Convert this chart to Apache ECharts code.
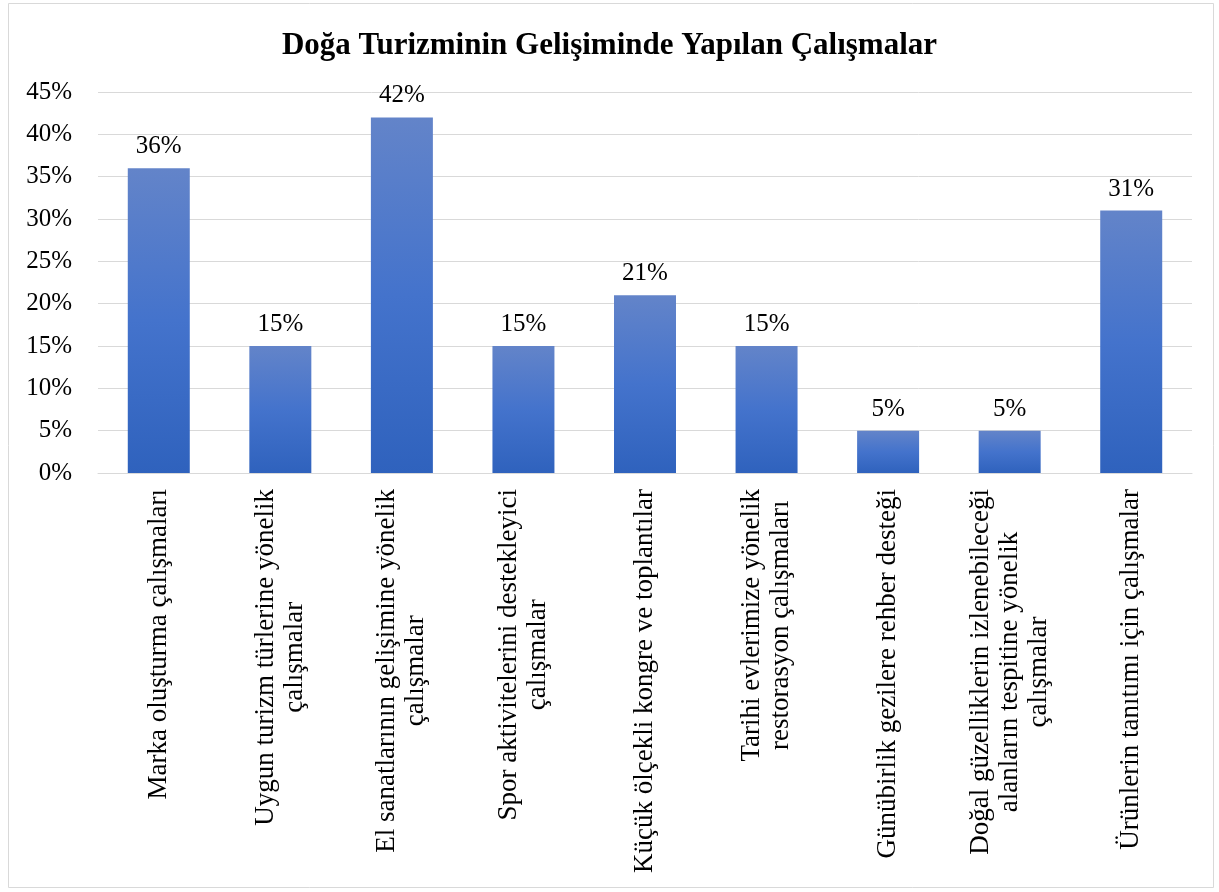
<!DOCTYPE html>
<html>
<head>
<meta charset="utf-8">
<script src="https://cdn.jsdelivr.net/npm/echarts@6/dist/echarts.min.js"></script>
<style>
html,body{margin:0;padding:0;background:#fff;}
#c{width:1219px;height:892px;}
</style>
</head>
<body>
<div id="c"></div>
<script>
var titleText = 'Doğa Turizminin Gelişiminde Yapılan Çalışmalar';
var categories = [
  'Marka oluşturma çalışmaları',
  'Uygun turizm türlerine yönelik\nçalışmalar',
  'El sanatlarının gelişimine yönelik\nçalışmalar',
  'Spor aktivitelerini destekleyici\nçalışmalar',
  'Küçük ölçekli kongre ve toplantılar',
  'Tarihi evlerimize yönelik\nrestorasyon çalışmaları',
  'Günübirlik gezilere rehber desteği',
  'Doğal güzelliklerin izlenebileceği\nalanların tespitine yönelik\nçalışmalar',
  'Ürünlerin tanıtımı için çalışmalar'
];
var values = [36, 15, 42, 15, 21, 15, 5, 5, 31];
var yMin = 0, yMax = 45, yStep = 5;

var FONT = '"Liberation Serif", "Times New Roman", serif';
var chart = echarts.init(document.getElementById('c'), null, {renderer: 'canvas'});
chart.setOption({
  backgroundColor: '#fff',
  animation: false,
  graphic: [{
    type: 'rect', silent: true, z: -1,
    shape: {x: 8.5, y: 3.5, width: 1205, height: 884},
    style: {fill: 'none', stroke: '#D9D9D9', lineWidth: 1}
  }],
  title: {
    text: titleText, left: 'center', top: 25,
    textStyle: {fontFamily: FONT, fontSize: 31, fontWeight: 'bold', color: '#000'}
  },
  grid: {left: 98, right: 27, top: 92, bottom: 419, containLabel: false},
  xAxis: {
    type: 'category', data: categories,
    axisLine: {show: true, lineStyle: {color: '#D9D9D9', width: 1}},
    axisTick: {show: false},
    axisLabel: {
      interval: 0, rotate: 90, margin: 16, align: 'right',
      fontFamily: FONT, fontSize: 27, color: '#000', lineHeight: 29,
      formatter: function (v) {
        return v.split('\n').map(function (s) { return '{c|' + s + '}'; }).join('\n');
      },
      rich: {c: {align: 'center', fontFamily: FONT, fontSize: 27, color: '#000', lineHeight: 29}}
    }
  },
  yAxis: {
    type: 'value', min: yMin, max: yMax, interval: yStep,
    axisLine: {show: false}, axisTick: {show: false},
    splitLine: {lineStyle: {color: '#D9D9D9', width: 1}},
    axisLabel: {
      margin: 26, fontFamily: FONT, fontSize: 25, color: '#000',
      formatter: function (v) { return v + '%'; }
    }
  },
  series: [{
    type: 'bar', data: values, barWidth: '51%',
    itemStyle: {
      color: new echarts.graphic.LinearGradient(0, 0, 0, 1, [
        {offset: 0, color: '#6384C9'},
        {offset: 0.5, color: '#4473CC'},
        {offset: 1, color: '#2F62BD'}
      ])
    },
    label: {
      show: true, position: 'top', distance: 9,
      fontFamily: FONT, fontSize: 25, color: '#000',
      formatter: function (p) { return p.value + '%'; }
    }
  }]
});
</script>
</body>
</html>
